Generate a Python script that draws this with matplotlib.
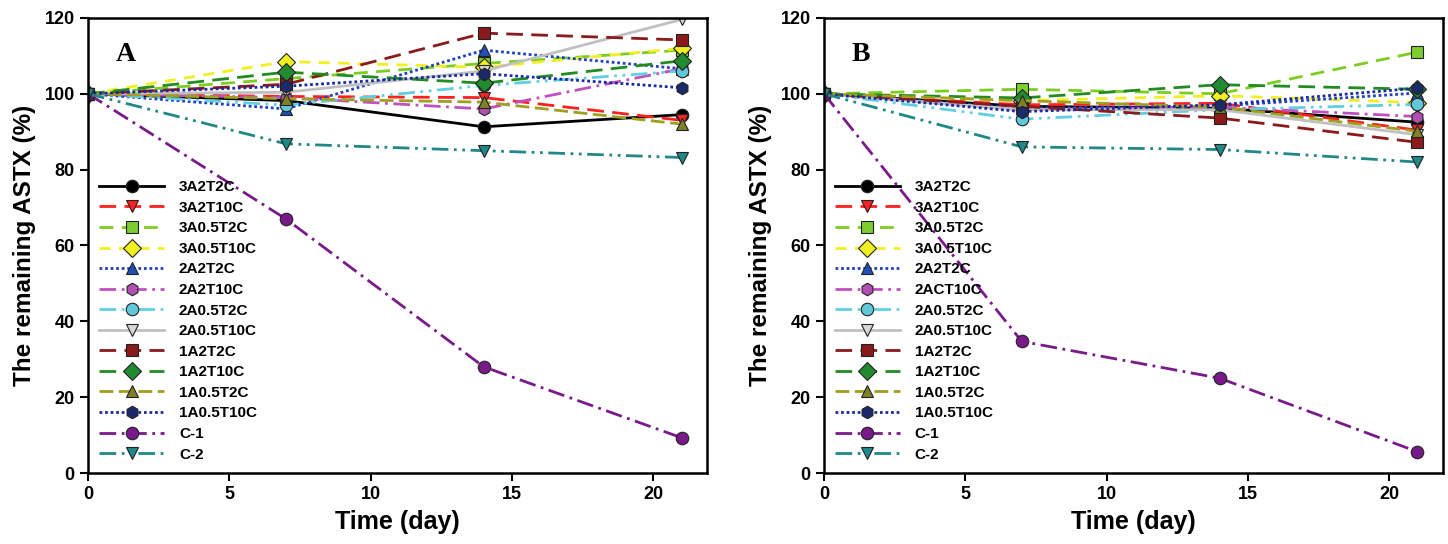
import matplotlib
matplotlib.use("Agg")
import matplotlib.pyplot as plt

plt.rcParams['font.family'] = ['Liberation Sans', 'DejaVu Sans']

days = [0, 7, 14, 21]

labels_a = ['3A2T2C', '3A2T10C', '3A0.5T2C', '3A0.5T10C', '2A2T2C', '2A2T10C',
            '2A0.5T2C', '2A0.5T10C', '1A2T2C', '1A2T10C', '1A0.5T2C', '1A0.5T10C',
            'C-1', 'C-2']
labels_b = ['3A2T2C', '3A2T10C', '3A0.5T2C', '3A0.5T10C', '2A2T2C', '2ACT10C',
            '2A0.5T2C', '2A0.5T10C', '1A2T2C', '1A2T10C', '1A0.5T2C', '1A0.5T10C',
            'C-1', 'C-2']

# remaining ASTX (%) at day 0, 7, 14, 21
values_a = [
    [100, 98.2, 91.3, 94.5],
    [100, 99.3, 99.0, 93.0],
    [100, 104.0, 108.0, 111.5],
    [100, 108.5, 107.0, 112.0],
    [100, 96.0, 111.5, 106.6],
    [100, 99.0, 96.0, 106.6],
    [100, 97.0, 102.2, 106.0],
    [100, 100.4, 106.0, 119.6],
    [100, 102.5, 116.0, 114.2],
    [100, 105.7, 102.8, 108.7],
    [100, 98.7, 97.8, 92.0],
    [100, 102.0, 105.3, 101.6],
    [100, 67.0, 28.0, 9.3],
    [100, 86.8, 85.0, 83.2],
]
values_b = [
    [100, 96.7, 96.2, 92.5],
    [100, 97.1, 97.5, 90.4],
    [100, 101.2, 100.0, 111.0],
    [100, 98.2, 99.5, 97.7],
    [100, 96.2, 96.8, 100.2],
    [100, 95.8, 96.5, 94.0],
    [100, 93.3, 95.8, 97.2],
    [100, 95.8, 95.8, 89.2],
    [100, 96.7, 93.6, 87.2],
    [100, 98.9, 102.4, 101.2],
    [100, 98.2, 96.5, 90.1],
    [100, 95.3, 97.1, 101.5],
    [100, 34.7, 25.0, 5.6],
    [100, 86.0, 85.3, 82.0],
]

styles = [
    # line colour, marker, face colour, dash pattern
    ('black', 'o', 'black', '-'),
    ('#ff2020', 'v', '#ff2020', (0, (6, 3))),
    ('#7ccd20', 's', '#7ccd30', (0, (5, 3))),
    ('#f0f020', 'D', '#f0f020', (0, (4, 3))),
    ('#2040c0', '^', '#2050b8', (0, (1, 1))),
    ('#c050c0', 'h', '#b050b0', (0, (6, 2, 1, 2))),
    ('#60d0e0', 'o', '#60c8d8', (0, (6, 2, 1, 2, 1, 2))),
    ('#c0c0c0', 'v', '#d8d8d8', '-'),
    ('#8b1a1a', 's', '#8b1a1a', (0, (6, 3))),
    ('#228b22', 'D', '#228b30', (0, (6, 3))),
    ('#a0a020', '^', '#808028', (0, (5, 2))),
    ('#1a2aa0', 'h', '#1a2a6a', (0, (1, 1))),
    ('#7a1a8a', 'o', '#7a1a8a', (0, (6, 2, 1, 2))),
    ('#208888', 'v', '#208888', (0, (6, 2, 1, 2, 1, 2))),
]


def draw_panel(ax, values, labels, tag):
    for vals, lab, (lc, mk, fc, ls) in zip(values, labels, styles):
        ax.plot(days, vals, color=lc, linestyle=ls, linewidth=2,
                marker=mk, markersize=9, markerfacecolor=fc,
                markeredgecolor='#222222', markeredgewidth=0.8, label=lab)
    ax.set_xlim(0, 21.9)
    ax.set_ylim(0, 120)
    ax.set_xticks([0, 5, 10, 15, 20])
    ax.set_yticks([0, 20, 40, 60, 80, 100, 120])
    for s in ax.spines.values():
        s.set_linewidth(1.8)
    ax.tick_params(direction='out', length=6, width=1.5, labelsize=13)
    for t in ax.get_xticklabels() + ax.get_yticklabels():
        t.set_fontweight('bold')
    ax.set_xlabel('Time (day)', fontsize=18, fontweight='bold', labelpad=5)
    ax.set_ylabel('The remaining ASTX (%)', fontsize=17.5, fontweight='bold',
                  labelpad=6)
    ax.text(0.045, 0.905, tag, transform=ax.transAxes, fontsize=20,
            fontweight='bold', family=['Liberation Serif', 'DejaVu Serif'])
    leg = ax.legend(loc='lower left', bbox_to_anchor=(0.0, 0.0), frameon=False,
                    prop={'weight': 'bold', 'size': 11}, handlelength=4.2,
                    labelspacing=0.43, handletextpad=1.0, borderaxespad=0.35,
                    markerscale=1.0)
    return leg


fig = plt.figure(figsize=(14.48, 5.44), dpi=100)
ax_a = fig.add_axes([0.0608, 0.1305, 0.4275, 0.8365])
ax_b = fig.add_axes([0.569, 0.1305, 0.4275, 0.8365])

draw_panel(ax_a, values_a, labels_a, 'A')
draw_panel(ax_b, values_b, labels_b, 'B')

fig.savefig('out.png', dpi=100)
